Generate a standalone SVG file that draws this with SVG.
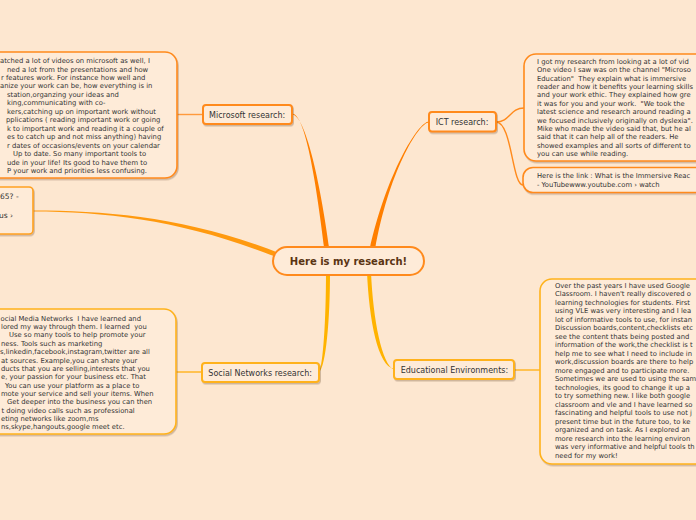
<svg xmlns="http://www.w3.org/2000/svg" width="696" height="520" viewBox="0 0 696 520">
<defs>
<filter id="sh" x="-10%" y="-10%" width="130%" height="140%">
<feDropShadow dx="1" dy="1.5" stdDeviation="0.7" flood-color="#7a5a3a" flood-opacity="0.35"/>
</filter>
<style>
.box{fill:#feebd8;stroke-width:1.6;filter:url(#sh)}
.lab{fill:#feebd8;stroke-width:2;filter:url(#sh)}
.or{stroke:#ff8a1c}
.gd{stroke:#ffb21a}
.lo{stroke:#ffa11f}
.body{font-family:"DejaVu Sans",Verdana,sans-serif;font-size:6.8px;fill:#333;white-space:pre}
.lbl{font-family:"DejaVu Sans",Verdana,sans-serif;font-size:8px;fill:#333}
.ctr{font-family:"DejaVu Sans",Verdana,sans-serif;font-weight:bold;font-size:10px;fill:#5a3412}
.thin{fill:none;stroke-width:1.4}
</style>
</defs>
<rect width="696" height="520" fill="#fde7d0"/>
<g id="connectors">
<path d="M33,210.5 C110,210.5 190,218 280.9,253.7 L279.1,258.3 C190,222 110,211.5 33,211.5 Z" fill="#ff9a0f"/>
<path d="M292,113.5 C305,113.5 316,180 324.5,250 L329.5,250 C320,180 305,114.5 292,114.5 Z" fill="#ff7f00"/>
<path d="M429,121.5 C418,121.5 386,175 369.5,250 L375,250 C388,175 418,122.5 429,122.5 Z" fill="#ff7f00"/>
<path d="M326,272 C326,320 323,366 319,371.5 L319,372.5 C326,366 330,320 330,272 Z" fill="#ffb300"/>
<path d="M367,272 C369,320 378,367 394,368.5 L394,369.5 C382,365 373,320 371,272 Z" fill="#ffb300"/>
<path class="thin" d="M176,114.5 H203" stroke="#ff9a3c"/>
<path class="thin" d="M496,122 C510,122 510,108 524,108" stroke="#ff8a1c"/>
<path class="thin" d="M496,122 C512,122 512,185 523,185" stroke="#ff8a1c"/>
<path class="thin" d="M176,372 H202" stroke="#ffb21a"/>
<path class="thin" d="M514,370 H541" stroke="#ffb21a"/>
</g>
<g id="center">
<rect class="lab or" x="273" y="247" width="151" height="28" rx="14" style="filter:none"/>
<text class="ctr" x="348.5" y="265" text-anchor="middle">Here is my research!</text>
</g>
<g id="left-node">
<rect class="box lo" x="-20" y="187" width="53" height="47" rx="4"/>
<text class="lbl" style="font-size:7.5px"><tspan x="0" y="199">65? -</tspan><tspan x="-1" y="218">us ›</tspan></text>
</g>
<g id="microsoft-label">
<rect class="lab or" x="203" y="105" width="89" height="19" rx="3"/>
<text class="lbl" x="209" y="118">Microsoft research:</text>
</g>
<g id="microsoft-text">
<rect class="box or" x="-20" y="52" width="197" height="126" rx="12"/>
<text class="body">
<tspan x="0" y="63">atched a lot of videos on microsoft as well, I</tspan>
<tspan x="7" y="71.5">ned a lot from the presentations and how</tspan>
<tspan x="1" y="80">r features work. For instance how well and</tspan>
<tspan x="0" y="88.4">anize your work can be, how everything is in</tspan>
<tspan x="7" y="96.8">station,organzing your ideas and</tspan>
<tspan x="7" y="105.3">king,communicating with co-</tspan>
<tspan x="7" y="113.8">kers,catching up on important work without</tspan>
<tspan x="6" y="122.2">pplications ( reading important work or going</tspan>
<tspan x="7" y="130.7">k to important work and reading it a couple of</tspan>
<tspan x="7" y="139.1">es to catch up and not miss anything) having</tspan>
<tspan x="7" y="147.6">r dates of occasions/events on your calendar</tspan>
<tspan x="13" y="156">Up to date. So many important tools to</tspan>
<tspan x="7" y="164.5">ude in your life! Its good to have them to</tspan>
<tspan x="7" y="173">P your work and priorities less confusing.</tspan>
</text>
</g>
<g id="ict-label">
<rect class="lab or" x="429" y="112" width="67" height="19.5" rx="3"/>
<text class="lbl" x="435.7" y="125">ICT research:</text>
</g>
<g id="ict-text">
<rect class="box or" x="524" y="54" width="200" height="107" rx="12"/>
<text class="body">
<tspan x="537" y="64">I got my research from looking at a lot of vid</tspan>
<tspan x="537" y="72.4">One video I saw was on the channel "Microso</tspan>
<tspan x="537" y="80.7">Education"  They explain what is immersive</tspan>
<tspan x="537" y="89.1">reader and how it benefits your learning skills</tspan>
<tspan x="537" y="97.4">and your work ethic. They explained how gre</tspan>
<tspan x="537" y="105.8">it was for you and your work.  "We took the</tspan>
<tspan x="537" y="114.2">latest science and research around reading a</tspan>
<tspan x="537" y="122.5">we focused inclusively originally on dyslexia".</tspan>
<tspan x="537" y="130.9">Mike who made the video said that, but he al</tspan>
<tspan x="537" y="139.2">said that it can help all of the readers. He</tspan>
<tspan x="537" y="147.6">showed examples and all sorts of different to</tspan>
<tspan x="537" y="156">you can use while reading.</tspan>
</text>
</g>
<g id="ict-link">
<rect class="box or" x="523" y="167.5" width="200" height="25" rx="10"/>
<text class="body">
<tspan x="537" y="178">Here is the link : What is the Immersive Reac</tspan>
<tspan x="537" y="186.5">- YouTubewww.youtube.com › watch</tspan>
</text>
</g>
<g id="social-label">
<rect class="lab gd" x="202" y="363" width="117" height="19" rx="3"/>
<text class="lbl" x="208.3" y="376">Social Networks research:</text>
</g>
<g id="social-text">
<rect class="box gd" x="-20" y="309" width="196" height="125" rx="12"/>
<text class="body">
<tspan x="0.5" y="320.7">ocial Media Networks  I have learned and</tspan>
<tspan x="1" y="329">lored my way through them. I learned  you</tspan>
<tspan x="9" y="337.4">Use so many tools to help promote your</tspan>
<tspan x="1" y="345.8">ness. Tools such as marketing</tspan>
<tspan x="0" y="354.1">s,linkedin,facebook,instagram,twitter are all</tspan>
<tspan x="1" y="362.5">at sources. Example,you can share your</tspan>
<tspan x="1" y="370.8">ducts that you are selling,interests that you</tspan>
<tspan x="1" y="379.2">e, your passion for your business etc. That</tspan>
<tspan x="5" y="387.5">You can use your platform as a place to</tspan>
<tspan x="1" y="395.9">mote your service and sell your items. When</tspan>
<tspan x="7" y="404.2">Get deeper into the business you can then</tspan>
<tspan x="1.5" y="412.6">t doing video calls such as professional</tspan>
<tspan x="1" y="420.9">eting networks like zoom,ms</tspan>
<tspan x="1" y="429.3">ns,skype,hangouts,google meet etc.</tspan>
</text>
</g>
<g id="educational-label">
<rect class="lab gd" x="394" y="360" width="120" height="19" rx="3"/>
<text class="lbl" x="400.7" y="372.5">Educational Environments:</text>
</g>
<g id="educational-text">
<rect class="box gd" x="540" y="279" width="200" height="185" rx="12"/>
<text class="body">
<tspan x="555" y="287.5">Over the past years I have used Google</tspan>
<tspan x="555" y="296">Classroom. I haven't really discovered o</tspan>
<tspan x="555" y="304.5">learning technologies for students. First</tspan>
<tspan x="555" y="313">using VLE was very interesting and I lea</tspan>
<tspan x="555" y="321.5">lot of informative tools to use, for instan</tspan>
<tspan x="555" y="330">Discussion boards,content,checklists etc</tspan>
<tspan x="555" y="338.5">see the content thats being posted and</tspan>
<tspan x="555" y="347">information of the work,the checklist is t</tspan>
<tspan x="555" y="355.5">help me to see what I need to include in</tspan>
<tspan x="555" y="364">work,discussion boards are there to help</tspan>
<tspan x="555" y="372.5">more engaged and to participate more.</tspan>
<tspan x="555" y="381">Sometimes we are used to using the sam</tspan>
<tspan x="555" y="389.5">technologies, its good to change it up a</tspan>
<tspan x="555" y="398">to try something new. I like both google</tspan>
<tspan x="555" y="406.5">classroom and vle and I have learned so</tspan>
<tspan x="555" y="415">fascinating and helpful tools to use not j</tspan>
<tspan x="555" y="423.5">present time but in the future too, to ke</tspan>
<tspan x="555" y="432">organized and on task. As I explored an</tspan>
<tspan x="555" y="440.5">more research into the learning environ</tspan>
<tspan x="555" y="449">was very informative and helpful tools th</tspan>
<tspan x="555" y="457.5">need for my work!</tspan>
</text>
</g>
</svg>
